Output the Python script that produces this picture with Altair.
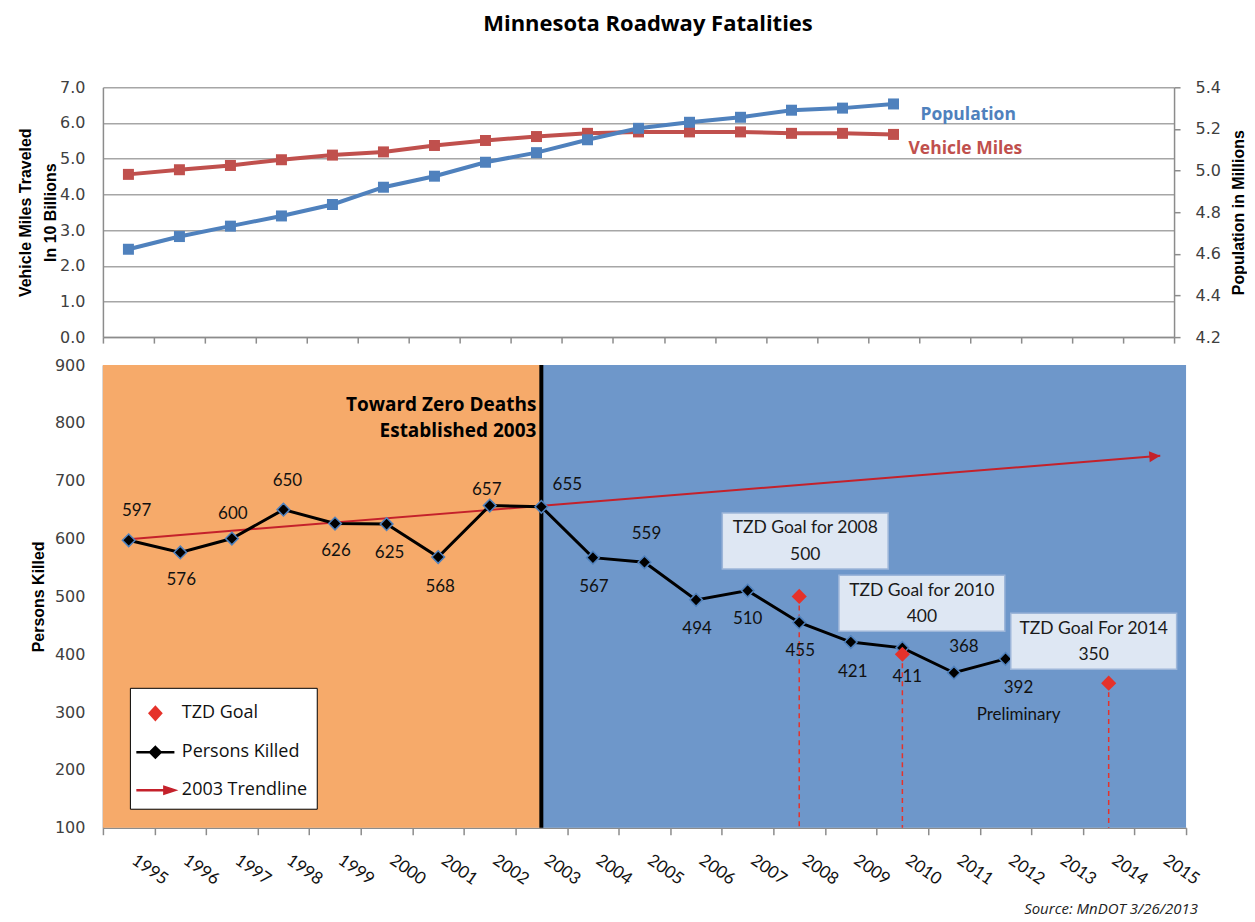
import math
import altair as alt
import pandas as pd

# ---------------- data ----------------
years_top = list(range(1995, 2011))
vmt_10b = [4.56, 4.69, 4.81, 4.97, 5.10, 5.19, 5.37, 5.51, 5.62, 5.71, 5.75, 5.75, 5.75, 5.71, 5.71, 5.68]
pop_m = [4.622, 4.683, 4.733, 4.782, 4.837, 4.920, 4.973, 5.040, 5.086, 5.148, 5.203, 5.232, 5.256, 5.290, 5.300, 5.320]

years_killed = list(range(1995, 2013))
persons_killed = [597, 576, 600, 650, 626, 625, 568, 657, 655, 567, 559, 494, 510, 455, 421, 411, 368, 392]

goal_years = [2008, 2010, 2014]
goal_values = [500, 400, 350]
goal_titles = ["TZD Goal for 2008", "TZD Goal for 2010", "TZD Goal For 2014"]

trend_years = [1995, 2015]
trend_values = [599, 743]

tzd_year = 2003
axis_years = list(range(1995, 2016))
legend_items = ["TZD Goal", "Persons Killed", "2003 Trendline"]
vmt_ticks = [0, 1, 2, 3, 4, 5, 6, 7]
pop_ticks = [4.2, 4.4, 4.6, 4.8, 5.0, 5.2, 5.4]
killed_ticks = [100, 200, 300, 400, 500, 600, 700, 800, 900]

# ---------------- layout / style ----------------
TOP_W, TOP_H = 1072, 250
BOT_W, BOT_H = 1084, 463
X_DOMAIN = [axis_years[0] - 0.5, axis_years[-1] + 0.5]
Y_BOT = [killed_ticks[0], killed_ticks[-1]]
PX_YEAR = BOT_W / (X_DOMAIN[1] - X_DOMAIN[0])
PX_UNIT = BOT_H / (Y_BOT[1] - Y_BOT[0])

ORANGE = "#F6AA6A"
BLUE_BG = "#6E97CA"
RED_LINE = "#C0504D"
BLUE_LINE = "#4F81BD"
TREND_RED = "#C4212B"
GOAL_RED = "#E5322A"
GRAY = "#8C8C8C"

# label offsets in pixels (style, not data)
label_dx = [8, 1, 1, 4, 1, 3, 2, -3, 26, 1, 2, 1, 0, 1, 2, 5, 10, 13]
label_dy = [-29, 28, -25, -29, 27, 29, 30, -16, -22, 29, -28, 29, 28, 29, 30, 29, -26, 29]
box_dx = [6, 19.5, -15]
box_dy = [-55.5, -51, -42]
BOX_W, BOX_H = 166, 56

edge_vals = [y - 0.5 for y in axis_years] + [axis_years[-1] + 0.5]

# ---------------- tables ----------------
top_df = pd.DataFrame({"year": years_top, "vmt": vmt_10b, "pop": pop_m})
top_last = top_df.tail(1).assign(vlabel="Vehicle Miles", plabel="Population")

killed_df = pd.DataFrame({"year": years_killed, "value": persons_killed})
lbl_df = killed_df.copy()
lbl_df["text"] = lbl_df["value"].astype(str)
lbl_df["lx"] = lbl_df["year"] + pd.Series(label_dx) / PX_YEAR
lbl_df["ly"] = lbl_df["value"] - pd.Series(label_dy) / PX_UNIT

goal_df = pd.DataFrame({"year": goal_years, "value": goal_values, "title": goal_titles})
goal_df["label"] = goal_df["value"].astype(str)
goal_df["base"] = Y_BOT[0]
goal_df["bx"] = goal_df["year"] + pd.Series(box_dx) / PX_YEAR
goal_df["by"] = goal_df["value"] - pd.Series(box_dy) / PX_UNIT
goal_df["t1"] = goal_df["by"] + 12.5 / PX_UNIT
goal_df["t2"] = goal_df["by"] - 14 / PX_UNIT

trend_df = pd.DataFrame({"year": trend_years, "value": trend_values})
trend_angle = 360 - math.degrees(math.atan2((trend_values[1] - trend_values[0]) * PX_UNIT,
                                            (trend_years[1] - trend_years[0]) * PX_YEAR))

bg_df = pd.DataFrame({"start": [X_DOMAIN[0], tzd_year], "end": [tzd_year, X_DOMAIN[1]],
                      "color": [ORANGE, BLUE_BG], "top": Y_BOT[1], "bot": Y_BOT[0]})
tzd_df = pd.DataFrame({"year": [tzd_year], "top": [Y_BOT[1]], "bot": [Y_BOT[0]]})
tzd_text_df = pd.DataFrame({"year": [tzd_year, tzd_year],
                            "value": [831, 786],
                            "text": ["Toward Zero Deaths", "Established 2003"]})
prelim_df = killed_df.tail(1).assign(text="Preliminary")
legend_df = pd.DataFrame({"series": legend_items})

# ---------------- encodings ----------------
x_scale = alt.Scale(domain=X_DOMAIN, nice=False, zero=False)

top_x_axis = alt.Axis(values=edge_vals, labels=False, tickSize=6, domainColor=GRAY, tickColor=GRAY,
                      domainWidth=1.5, tickWidth=1.5, grid=False, title=None)

bot_x_axis = alt.Axis(values=edge_vals,
                      labelExpr="datum.value < %s ? format(datum.value + 0.5, 'd') : ''" % X_DOMAIN[1],
                      labelAngle=35, labelAlign="left", labelBaseline="top",
                      labelOffset=PX_YEAR / 2 + 9, labelPadding=17, tickSize=7,
                      labelFont="Lato", labelFontSize=17, labelColor="#111",
                      domainColor=GRAY, tickColor=GRAY, domainWidth=1.5, tickWidth=1.5,
                      grid=False, title=None, labelOverlap=False, labelFlush=False)


def xt(field):
    return alt.X(field, type="quantitative", scale=x_scale, axis=top_x_axis)


def xb(field):
    return alt.X(field, type="quantitative", scale=x_scale, axis=bot_x_axis)


y_bot_scale = alt.Scale(domain=Y_BOT, nice=False, zero=False)
y_bot_axis = alt.Axis(values=killed_ticks, grid=False, ticks=False, labelPadding=18,
                      labelFont="DejaVu Sans", labelFontSize=16, labelColor="#404040",
                      domainColor=GRAY, domainWidth=1.5,
                      title="Persons Killed", titleFont="Liberation Sans", titleFontSize=16,
                      titleFontWeight="bold", titleColor="#000", titlePadding=8)


def yb(field):
    return alt.Y(field, type="quantitative", scale=y_bot_scale, axis=y_bot_axis)


# ---------------- top panel ----------------
vmt_y = alt.Y("vmt:Q", scale=alt.Scale(domain=[0, 7], nice=False, zero=False),
              axis=alt.Axis(values=vmt_ticks, format=".1f", grid=True, gridColor="#A6A6A6",
                            gridWidth=1.5, ticks=False, labelPadding=18,
                            labelFont="DejaVu Sans", labelFontSize=16, labelColor="#404040",
                            domainColor=GRAY, domainWidth=1.5,
                            title=["Vehicle Miles Traveled", "In 10 Billions"],
                            titleFont="Liberation Sans", titleFontSize=16, titleFontWeight="bold",
                            titleColor="#000", titlePadding=1, titleLineHeight=25))
pop_y = alt.Y("pop:Q", scale=alt.Scale(domain=[4.2, 5.4], nice=False, zero=False),
              axis=alt.Axis(orient="right", values=pop_ticks, format=".1f", grid=False,
                            tickSize=6, tickColor=GRAY, tickWidth=1.5, labelPadding=15,
                            labelFont="DejaVu Sans", labelFontSize=16, labelColor="#404040",
                            domainColor=GRAY, domainWidth=1.5,
                            title="Population in Millions", titleAngle=270, titleBaseline="top",
                            titleFont="Liberation Sans", titleFontSize=16, titleFontWeight="bold",
                            titleColor="#000", titlePadding=10))

vmt_base = alt.Chart(top_df).encode(x=xt("year"), y=vmt_y)
vmt_layer = alt.layer(
    vmt_base.mark_line(color=RED_LINE, strokeWidth=4),
    vmt_base.mark_point(shape="square", filled=True, color=RED_LINE, size=121, opacity=1),
    alt.Chart(top_last).mark_text(align="left", baseline="middle", dx=15, dy=15, color=RED_LINE,
                                  font="Open Sans", fontSize=17.5, fontWeight="bold")
    .encode(x=xt("year"), y=vmt_y, text="vlabel:N"),
)
pop_base = alt.Chart(top_df).encode(x=xt("year"), y=pop_y)
pop_layer = alt.layer(
    pop_base.mark_line(color=BLUE_LINE, strokeWidth=4),
    pop_base.mark_point(shape="square", filled=True, color=BLUE_LINE, size=121, opacity=1),
    alt.Chart(top_last).mark_text(align="left", baseline="middle", dx=27, dy=11, color=BLUE_LINE,
                                  font="Open Sans", fontSize=17.5, fontWeight="bold")
    .encode(x=xt("year"), y=pop_y, text="plabel:N"),
)
top = alt.layer(vmt_layer, pop_layer).resolve_scale(y="independent").properties(width=TOP_W, height=TOP_H)

# ---------------- bottom panel ----------------
bg = alt.Chart(bg_df).mark_rect().encode(
    x=xb("start"), x2="end", y=yb("top"), y2="bot", color=alt.Color("color:N", scale=None, legend=None))
tzd_rule = alt.Chart(tzd_df).mark_rule(color="black", strokeWidth=4).encode(
    x=xb("year"), y=yb("top"), y2="bot")
goal_rules = alt.Chart(goal_df).mark_rule(color=GOAL_RED, strokeWidth=1.5, strokeDash=[5, 4]).encode(
    x=xb("year"), y=yb("value"), y2="base")
trend_line = alt.Chart(trend_df).mark_line(color=TREND_RED, strokeWidth=2).encode(x=xb("year"), y=yb("value"))
trend_head = alt.Chart(trend_df.tail(1)).mark_point(
    shape="M-1,-0.5L0,0L-1,0.5Z", size=484, filled=True, color=TREND_RED, opacity=1,
    angle=trend_angle).encode(x=xb("year"), y=yb("value"))
killed_line = alt.Chart(killed_df).mark_line(color="black", strokeWidth=3).encode(x=xb("year"), y=yb("value"))
killed_pts = alt.Chart(killed_df).mark_point(shape="diamond", filled=True, fill="black", stroke=BLUE_LINE,
                                             strokeWidth=1.5, size=160, opacity=1).encode(
    x=xb("year"), y=yb("value"))
killed_lbl = alt.Chart(lbl_df).mark_text(font="Lato", fontSize=17, color="#111", baseline="middle").encode(
    x=xb("lx"), y=yb("ly"), text="text:N")
goal_pts = alt.Chart(goal_df).mark_point(shape="diamond", filled=True, color=GOAL_RED, size=230,
                                         opacity=1).encode(x=xb("year"), y=yb("value"))
boxes = alt.Chart(goal_df).mark_point(
    shape="M-1,-%.4fL1,-%.4fL1,%.4fL-1,%.4fZ" % ((BOX_H / BOX_W,) * 4),
    size=BOX_W ** 2, filled=True, fill="#DEE7F3", stroke="#9DB6D9", strokeWidth=1.5, opacity=1
).encode(x=xb("bx"), y=yb("by"))
box_t1 = alt.Chart(goal_df).mark_text(font="Lato", fontSize=17.5, color="#1a1a1a", baseline="middle").encode(
    x=xb("bx"), y=yb("t1"), text="title:N")
box_t2 = alt.Chart(goal_df).mark_text(font="Lato", fontSize=17.5, color="#1a1a1a", baseline="middle").encode(
    x=xb("bx"), y=yb("t2"), text="label:N")
tzd_text = alt.Chart(tzd_text_df).mark_text(font="Open Sans", fontSize=19, fontWeight="bold", color="#000",
                                            align="right", baseline="middle", dx=-5).encode(
    x=xb("year"), y=yb("value"), text="text:N")
prelim = alt.Chart(prelim_df).mark_text(font="Lato", fontSize=17, color="#111", baseline="middle",
                                        dx=13, dy=56).encode(x=xb("year"), y=yb("value"), text="text:N")

leg = alt.Legend(title=None, orient="none", legendX=27, legendY=323, direction="vertical",
                 fillColor="white", strokeColor="black", padding=9, symbolSize=900,
                 symbolStrokeWidth=2.5, symbolOpacity=1, labelFont="Open Sans", labelFontSize=18,
                 labelColor="#111", labelOffset=10, rowPadding=11)
legend_layer = alt.Chart(legend_df).transform_filter("false").mark_point(
    filled=True, strokeWidth=2.5, opacity=1).encode(
    shape=alt.Shape("series:N", legend=leg, scale=alt.Scale(
        domain=legend_items,
        range=["M0,-0.42L0.38,0L0,0.42L-0.38,0Z",
               "M-1.27,0L-0.35,0M0.35,0L1.27,0M0,-0.35L0.35,0L0,0.35L-0.35,0Z",
               "M-1.27,0L0.8,0M0.6,-0.22L1.27,0L0.6,0.22Z"])),
    fill=alt.Fill("series:N", legend=leg, scale=alt.Scale(domain=legend_items,
                                                         range=[GOAL_RED, "black", TREND_RED])),
    stroke=alt.Stroke("series:N", legend=leg, scale=alt.Scale(domain=legend_items,
                                                             range=[GOAL_RED, "black", TREND_RED])),
)

bottom = alt.layer(
    bg, tzd_rule, goal_rules, trend_line, trend_head, killed_line, killed_pts, killed_lbl,
    goal_pts, boxes, box_t1, box_t2, tzd_text, prelim, legend_layer
).properties(
    width=BOT_W, height=BOT_H,
    title=alt.TitleParams("Source: MnDOT 3/26/2013", orient="bottom", anchor="end", frame="group",
                          font="Open Sans", fontSize=15, fontStyle="italic", fontWeight="normal",
                          color="#222", offset=15, dx=12),
)

chart = alt.vconcat(
    top, bottom, spacing=28, bounds="flush",
    title=alt.TitleParams("Minnesota Roadway Fatalities", font="Open Sans", fontSize=22,
                          fontWeight="bold", color="#000", anchor="middle", offset=43, dx=16),
).resolve_scale(
    shape="independent", fill="independent", stroke="independent"
).configure_view(strokeWidth=0).properties(
    padding={"left": 9, "top": 5, "right": 0, "bottom": 0}
)

chart.save("out.html", embed_options={"renderer": "svg", "actions": False})
